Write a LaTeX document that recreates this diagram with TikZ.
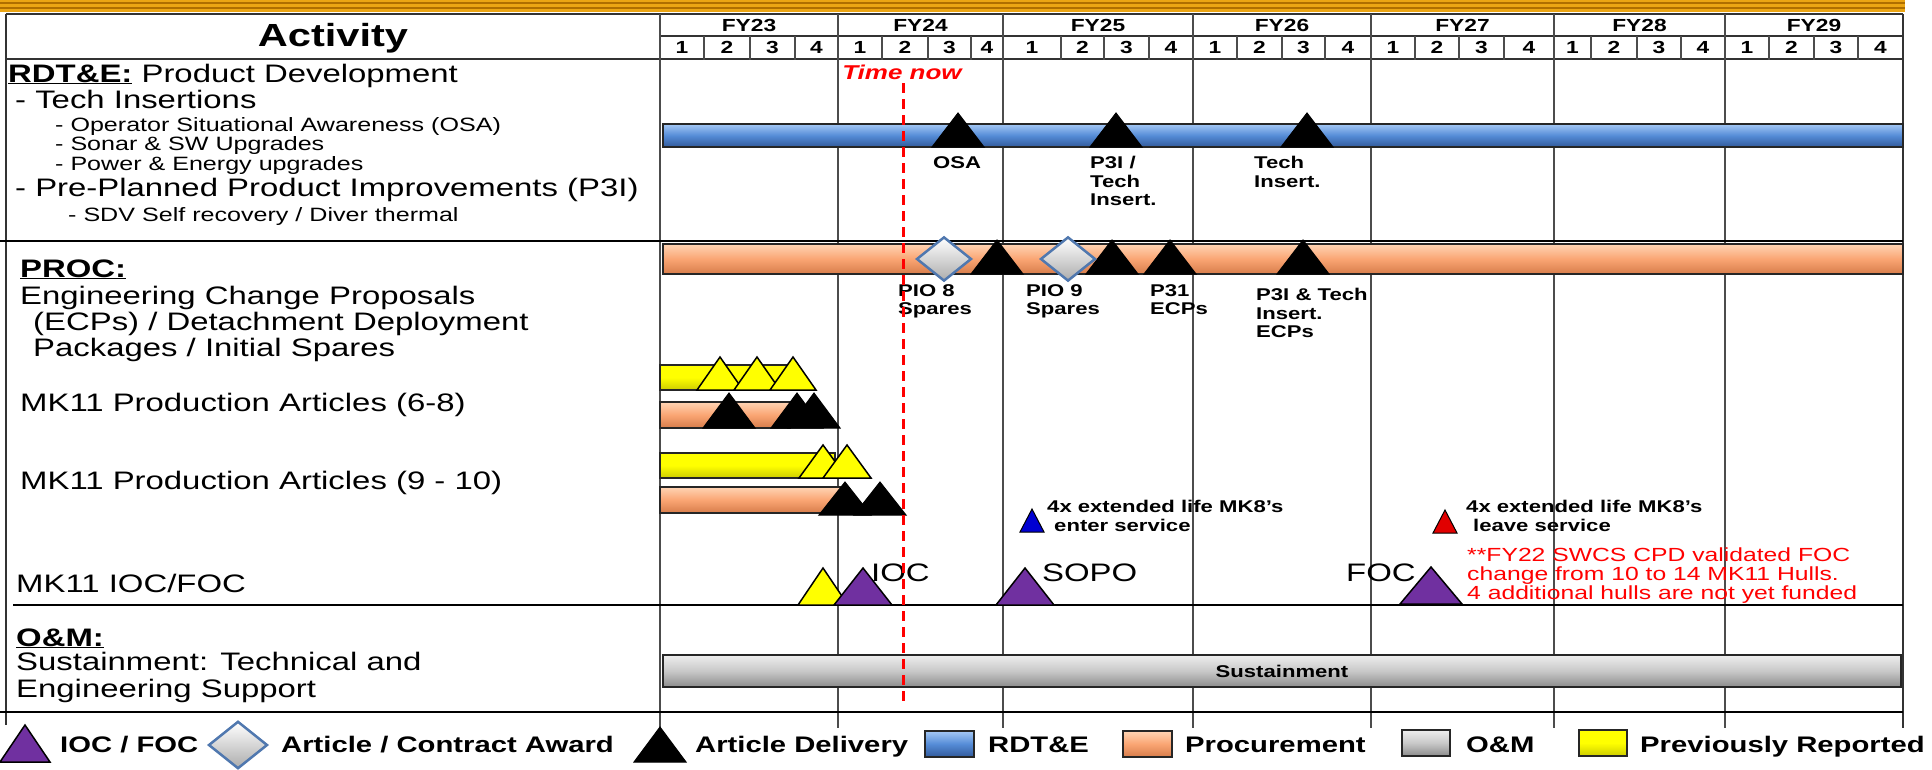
\documentclass[tikz,border=0pt]{standalone}
\usepackage{fontspec}
\setmainfont{Liberation Sans}[FakeStretch=1.3]
\usetikzlibrary{positioning}

\definecolor{rdteblue}{RGB}{85,140,215}
\definecolor{rdtelight}{RGB}{165,200,245}
\definecolor{rdtedark}{RGB}{50,90,155}
\definecolor{procorange}{RGB}{250,165,115}
\definecolor{proclight}{RGB}{255,212,180}
\definecolor{procdark}{RGB}{215,125,75}
\definecolor{omgrey}{RGB}{200,200,200}
\definecolor{omlight}{RGB}{238,238,238}
\definecolor{omdark}{RGB}{140,140,140}
\definecolor{prevyellow}{RGB}{255,255,0}
\definecolor{prevdark}{RGB}{205,205,0}
\definecolor{iocpurple}{RGB}{112,48,160}
\definecolor{awardblue}{RGB}{80,120,175}
\definecolor{bandgold}{RGB}{235,165,20}
\definecolor{banddark}{RGB}{175,110,0}
\definecolor{mkblue}{RGB}{0,0,210}
\definecolor{mkred}{RGB}{225,0,0}

\newcommand{\fhead}{\fontsize{32}{36}\selectfont\bfseries}
\newcommand{\fbig}{\fontsize{25.3}{28}\selectfont}
\newcommand{\fsmall}{\fontsize{19.3}{22}\selectfont}
\newcommand{\fcal}{\fontsize{17.5}{20}\selectfont\bfseries}
\newcommand{\fmark}{\fontsize{17}{18.5}\selectfont\bfseries}
\newcommand{\fnote}{\fontsize{19}{19}\selectfont}
\newcommand{\fleg}{\fontsize{22.5}{26}\selectfont\bfseries}
\newcommand{\ftime}{\fontsize{20}{24}\selectfont\bfseries\itshape}

% milestone triangle: style, x, apex y, base y, half width
\newcommand{\milestone}[5]{\draw[#1] ({#2-#5},#4) -- (#2,#3) -- ({#2+#5},#4) -- cycle;}
% award diamond: x, y, half width
\newcommand{\award}[3]{\draw[awarddia] ({#1-#3},#2) -- (#1,{#2-0.8*#3}) -- ({#1+#3},#2) -- (#1,{#2+0.8*#3}) -- cycle;}

\begin{document}
\begin{tikzpicture}[
  x=1pt, y=-1pt,
  lbl/.style={inner sep=0pt, anchor=base west},
  barlbl/.style={inner sep=0pt, anchor=north west, align=left, font=\fmark},
  calhead/.style={inner sep=0pt, font=\fcal},
  tableline/.style={draw=black!80, line width=1.6pt},
  gridline/.style={draw=black!70, line width=1.6pt},
  secline/.style={draw=black, line width=2.6pt},
  rdtebar/.style={draw=black!85, line width=1.5pt, top color=rdtelight, bottom color=rdtedark, middle color=rdteblue},
  procbar/.style={draw=black!85, line width=1.5pt, top color=proclight, bottom color=procdark, middle color=procorange},
  ombar/.style={draw=black!85, line width=1.5pt, top color=omlight, bottom color=omdark, middle color=omgrey},
  prevbar/.style={draw=black!85, line width=1.5pt, top color=prevyellow, bottom color=prevdark, middle color=prevyellow},
  deliv/.style={fill=black, draw=black, line width=1pt},
  prev/.style={fill=prevyellow, draw=black, line width=1.5pt},
  iocfoc/.style={fill=iocpurple, draw=black, line width=1.5pt},
  mkin/.style={fill=mkblue, draw=black, line width=1pt},
  mkout/.style={fill=mkred, draw=black, line width=1pt},
  awarddia/.style={draw=awardblue, line width=2.5pt, top color=white, bottom color=gray!65},
  nowline/.style={draw=red, line width=3pt, dash pattern=on 10pt off 6pt}
]
\useasboundingbox (0,0) rectangle (1932,769);
\fill[white] (0,0) rectangle (1932,769);

% top band
\fill[bandgold] (0,0) rectangle (1905,12);
\draw[banddark, line width=1.5pt] (0,3) -- (1905,3) (0,8) -- (1905,8);

% table frame
\draw[tableline] (6,14) -- (1903,14);
\draw[tableline] (660,36) -- (1903,36);
\draw[tableline] (6,59) -- (1903,59);
\draw[tableline] (6,14) -- (6,725);
\draw[tableline] (1903,14) -- (1903,728);
\node[inner sep=0pt, font=\fhead] (activity) at (333,38) {Activity};

% fiscal years and quarters
\foreach \fy/\qa/\qb/\qc/\qd/\qe in {23/660/704/750/795/838, 24/838/882/928/971/1003,
    25/1003/1061/1104/1149/1193, 26/1193/1237/1282/1325/1371, 27/1371/1415/1459/1504/1554,
    28/1554/1591/1637/1681/1725, 29/1725/1769/1814/1858/1903} {
  \node[calhead] (fy\fy) at ({(\qa+\qe)/2},25) {FY\fy};
  \node[calhead] (q\fy-1) at ({(\qa+\qb)/2},47.5) {1};
  \node[calhead] (q\fy-2) at ({(\qb+\qc)/2},47.5) {2};
  \node[calhead] (q\fy-3) at ({(\qc+\qd)/2},47.5) {3};
  \node[calhead] (q\fy-4) at ({(\qd+\qe)/2},47.5) {4};
  \draw[gridline] (\qa,14) -- (\qa,728);
  \draw[gridline] (\qb,36) -- (\qb,60) (\qc,36) -- (\qc,60) (\qd,36) -- (\qd,60);
}

% section rules
\draw[secline] (0,241) -- (1903,241);
\draw[secline] (13,605) -- (1903,605);
\draw[secline] (0,712) -- (1903,712);

% activity column
\node[lbl, font=\fbig] (rdte) at (8,82) {\underline{\textbf{RDT\&E:}} Product Development};
\node[lbl, font=\fbig] (techins) at (15,108) {- Tech Insertions};
\node[lbl, font=\fsmall] (osa) at (55,131) {- Operator Situational Awareness (OSA)};
\node[lbl, font=\fsmall] (sonar) at (55,150) {- Sonar \& SW Upgrades};
\node[lbl, font=\fsmall] (power) at (55,170) {- Power \& Energy upgrades};
\node[lbl, font=\fbig] (p3i) at (15,196) {- Pre-Planned Product Improvements (P3I)};
\node[lbl, font=\fsmall] (sdv) at (68,221) {- SDV Self recovery / Diver thermal};
\node[lbl, font=\fbig] (proc) at (20,277) {\underline{\textbf{PROC:}}};
\node[lbl, font=\fbig] (ecp1) at (20,304) {Engineering Change Proposals};
\node[lbl, font=\fbig] (ecp2) at (33,330) {(ECPs) / Detachment Deployment};
\node[lbl, font=\fbig] (ecp3) at (33,356) {Packages / Initial Spares};
\node[lbl, font=\fbig] (mk68) at (20,411) {MK11 Production Articles (6-8)};
\node[lbl, font=\fbig] (mk910) at (20,489) {MK11 Production Articles (9 - 10)};
\node[lbl, font=\fbig] (mkioc) at (16,592) {MK11 IOC/FOC};
\node[lbl, font=\fbig] (om) at (16,646) {\underline{\textbf{O\&M:}}};
\node[lbl, font=\fbig] (sust1) at (16,670) {Sustainment: Technical and};
\node[lbl, font=\fbig] (sust2) at (16,697) {Engineering Support};

% RDT&E
\draw[rdtebar] (663,124) rectangle (1903,147);
\milestone{deliv}{958}{113}{147}{26}
\milestone{deliv}{1116}{113}{147}{26}
\milestone{deliv}{1307}{113}{147}{26}
\node[barlbl, anchor=north] (osalbl) at (957,156) {OSA};
\node[barlbl] (p3ilbl) at (1090,156) {P3I /\\Tech\\Insert.};
\node[barlbl] (techlbl) at (1254,156) {Tech\\Insert.};

% procurement
\draw[procbar] (663,244) rectangle (1903,274);
\milestone{deliv}{997}{240}{274}{26}
\milestone{deliv}{1112}{240}{274}{26}
\milestone{deliv}{1170}{240}{274}{26}
\milestone{deliv}{1303}{240}{274}{26}
\award{944}{259}{27}
\award{1068}{259}{27}
\node[barlbl] (pio8) at (898,284) {PIO 8\\Spares};
\node[barlbl] (pio9) at (1026,284) {PIO 9\\Spares};
\node[barlbl] (p31) at (1150,284) {P31\\ECPs};
\node[barlbl] (p3iecp) at (1256,288) {P3I \& Tech\\Insert.\\ECPs};

% production articles
\draw[prevbar] (660,365) rectangle (795,390);
\milestone{prev}{720}{357}{390}{23}
\milestone{prev}{757}{357}{390}{23}
\milestone{prev}{793}{357}{390}{23}
\draw[procbar] (660,402) rectangle (790,428);
\milestone{deliv}{729}{393}{428}{26}
\milestone{deliv}{797}{393}{428}{26}
\milestone{deliv}{814}{393}{428}{26}
\draw[prevbar] (660,453) rectangle (835,478);
\milestone{prev}{823}{445}{478}{24}
\milestone{prev}{847}{445}{478}{24}
\draw[procbar] (660,487) rectangle (842,513);
\milestone{deliv}{845}{482}{515}{26}
\milestone{deliv}{880}{482}{515}{26}

% MK8 service life
\milestone{mkin}{1032}{509}{532}{12}
\node[barlbl] (mkenter) at (1047,500) {4x extended life MK8's\\\hspace{7pt}enter service};
\milestone{mkout}{1445}{510}{533}{12}
\node[barlbl] (mkleave) at (1466,500) {4x extended life MK8's\\\hspace{7pt}leave service};

% IOC / FOC
\milestone{prev}{823}{568}{605}{25}
\milestone{iocfoc}{863}{568}{605}{29}
\milestone{iocfoc}{1025}{568}{605}{29}
\milestone{iocfoc}{1431}{567}{604}{31}
\node[lbl, font=\fbig] (ioc) at (871,581) {IOC};
\node[lbl, font=\fbig] (sopo) at (1042,581) {SOPO};
\node[lbl, font=\fbig] (foc) at (1346,581) {FOC};
\node[inner sep=0pt, anchor=north west, align=left, font=\fnote, text=red] (focnote) at (1467,548)
  {**FY22 SWCS CPD validated FOC\\change from 10 to 14 MK11 Hulls.\\4 additional hulls are not yet funded};

% O&M
\draw[ombar] (663,655) rectangle (1901,687);
\node[inner sep=0pt, font=\fmark] (susttxt) at (1282,671) {Sustainment};

% time now
\node[inner sep=0pt, font=\ftime, text=red] (timenow) at (902,72) {Time now};
\coordinate (nowtop) at (903,83);
\coordinate (nowbot) at (903,707);
\draw[nowline] (nowtop) -- (nowbot);

% legend
\milestone{iocfoc}{25}{725}{762}{25}
\node[lbl, font=\fleg] (legioc) at (60,752) {IOC / FOC};
\award{238}{745}{29}
\node[lbl, font=\fleg] (legaward) at (281,752) {Article / Contract Award};
\milestone{deliv}{660}{727}{762}{26}
\node[lbl, font=\fleg] (legdel) at (695,752) {Article Delivery};
\draw[rdtebar] (925,731) rectangle (974,757);
\node[lbl, font=\fleg] (legrdte) at (988,752) {RDT\&E};
\draw[procbar] (1123,731) rectangle (1172,757);
\node[lbl, font=\fleg] (legproc) at (1185,752) {Procurement};
\draw[ombar] (1402,730) rectangle (1450,756);
\node[lbl, font=\fleg] (legom) at (1466,752) {O\&M};
\draw[prevbar] (1579,730) rectangle (1627,756);
\node[lbl, font=\fleg] (legprev) at (1640,752) {Previously Reported};
\end{tikzpicture}
\end{document}
